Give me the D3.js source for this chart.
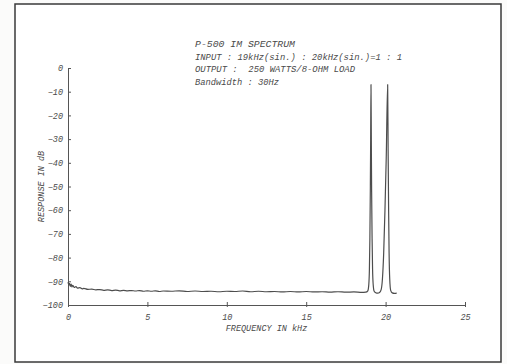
<!DOCTYPE html>
<html>
<head>
<meta charset="utf-8">
<script src="https://cdn.jsdelivr.net/npm/d3@7"></script>
<style>
  body { margin: 0; background: #fbfbfa; }
  text { font-family: "Liberation Mono", "DejaVu Sans Mono", monospace; font-style: italic; fill: #4a4a4a; white-space: pre; }
</style>
</head>
<body>
<svg width="507" height="364"></svg>
<script>
const svg = d3.select('svg');

// spectrum: frequency in kHz, response in dB
const freqKHz = [
  0, 0.05, 0.1, 0.15, 0.2, 0.25, 0.3, 0.4, 0.5, 0.6, 0.75, 0.9, 1.0, 1.25, 1.5, 1.75,
  2.0, 2.25, 2.5, 2.75, 3.0, 3.25, 3.5, 3.75, 4.0, 4.25, 4.5, 4.75, 5.0, 5.25, 5.5, 5.75,
  6.0, 6.5, 7.0, 7.5, 8.0, 8.5, 9.0, 9.5, 10.0, 10.5, 11.0, 11.5, 12.0, 12.5, 13.0, 13.5,
  14.0, 14.5, 15.0, 15.5, 16.0, 16.5, 17.0, 17.5, 18.0, 18.5, 18.75,
  18.88, 18.94, 18.98, 19.01, 19.04, 19.06, 19.08, 19.10, 19.12, 19.15, 19.18, 19.22, 19.28,
  19.38, 19.50, 19.62, 19.72, 19.80, 19.88, 19.96, 20.04, 20.13, 20.16, 20.19, 20.22, 20.26,
  20.32, 20.42, 20.55, 20.70
];
const responseDb = [
  -90.4, -91.6, -90.9, -92.1, -91.2, -92.4, -91.7, -92.6, -92.2, -92.9, -92.7, -93.2, -93.0, -93.4, -93.3, -93.6,
  -93.5, -93.8, -93.6, -93.9, -93.7, -94.0, -93.8, -94.0, -93.9, -94.1, -93.9, -94.2, -94.0, -94.2, -94.0, -94.3,
  -94.1, -94.2, -94.0, -94.3, -94.1, -94.3, -94.2, -94.4, -94.2, -94.3, -94.1, -94.4, -94.2, -94.4, -94.3, -94.5,
  -94.3, -94.5, -94.3, -94.5, -94.4, -94.6, -94.4, -94.6, -94.5, -94.7, -94.6,
  -94.0, -91.5, -85, -72, -50, -30, -7, -30, -52, -72, -85, -91.5, -94.2,
  -94.8, -95.0, -94.7, -93.5, -89, -78, -60, -38, -7, -35, -60, -78, -89,
  -93.8, -94.9, -95.1, -95.0
];

const xTicks = [0, 5, 10, 15, 20, 25];
const yTicks = [0, -10, -20, -30, -40, -50, -60, -70, -80, -90, -100];

const titleLines = [
  'P-500 IM SPECTRUM',
  'INPUT : 19kHz(sin.) : 20kHz(sin.)=1 : 1',
  'OUTPUT :  250 WATTS/8-OHM LOAD',
  'Bandwidth : 30Hz'
];

const data = freqKHz.map((f, i) => ({ f, db: responseDb[i] }));

// frame
svg.append('rect')
  .attr('x', 15).attr('y', 4)
  .attr('width', 486).attr('height', 358)
  .attr('fill', '#fff')
  .attr('stroke', '#3a3a3a')
  .attr('stroke-width', 1.5);

const xScale = d3.scaleLinear().domain([0, 25]).range([68, 465]);
const yScale = d3.scaleLinear().domain([-100, 0]).range([305, 68]);

const xAxisG = svg.append('g')
  .attr('transform', `translate(0,${yScale(-100)})`)
  .call(d3.axisBottom(xScale).tickValues(xTicks).tickSize(-3).tickPadding(9).tickFormat(d3.format('d')));

const yAxisG = svg.append('g')
  .attr('transform', `translate(${xScale(0)},0)`)
  .call(d3.axisLeft(yScale).tickValues(yTicks).tickSize(-3).tickPadding(5).tickFormat(d3.format('d')));

[xAxisG, yAxisG].forEach(g => {
  g.select('.domain').attr('stroke', '#555').attr('stroke-width', 1);
  g.selectAll('.tick line').attr('stroke', '#555');
  g.selectAll('.tick text')
    .style('font-size', '8.5px')
    .attr('fill', '#4a4a4a');
});

// small cross ticks on the x axis
xAxisG.selectAll('.tick').append('line')
  .attr('y1', 0).attr('y2', 2).attr('stroke', '#555');

svg.append('text')
  .attr('x', (xScale(0) + xScale(25)) / 2)
  .attr('y', 331)
  .attr('text-anchor', 'middle')
  .style('font-size', '8.5px')
  .text('FREQUENCY IN kHz');

svg.append('text')
  .attr('transform', `translate(44,${(yScale(0) + yScale(-100)) / 2}) rotate(-90)`)
  .attr('text-anchor', 'middle')
  .style('font-size', '8.5px')
  .text('RESPONSE IN dB');

const titleWidths = [100, 207, 160, 84];
svg.append('g').selectAll('text').data(titleLines)
  .enter().append('text')
    .attr('x', 195)
    .attr('y', (d, i) => [47, 60, 72, 85][i])
    .attr('textLength', (d, i) => titleWidths[i])
    .attr('lengthAdjust', 'spacingAndGlyphs')
    .style('font-size', '9px')
    .text(d => d);

const line = d3.line()
  .x(d => xScale(d.f))
  .y(d => yScale(d.db))
  .curve(d3.curveMonotoneX);

svg.append('path')
  .datum(data)
  .attr('d', line)
  .attr('fill', 'none')
  .attr('stroke', '#4d4d4d')
  .attr('stroke-width', 1.2)
  .attr('stroke-linejoin', 'round');
</script>
</body>
</html>
